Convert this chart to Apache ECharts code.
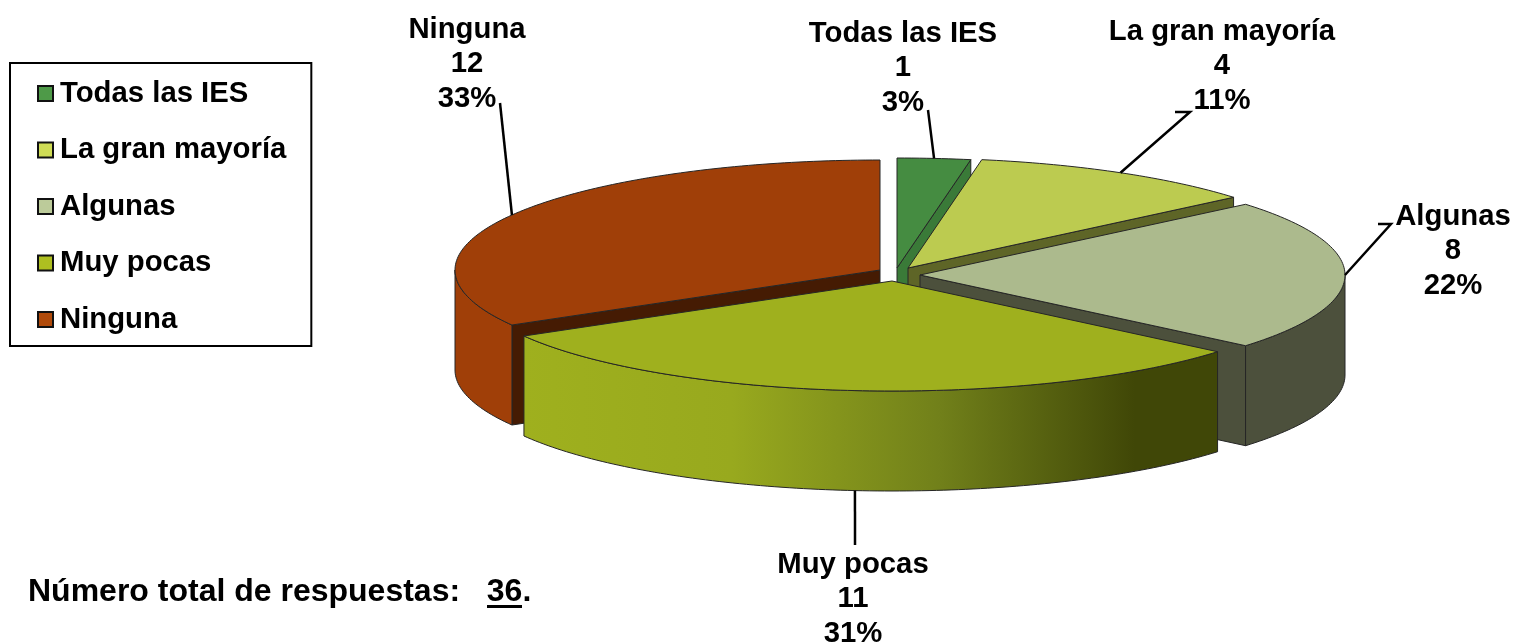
<!DOCTYPE html>
<html>
<head>
<meta charset="utf-8">
<title>Número total de respuestas</title>
<style>
  html, body { margin: 0; padding: 0; background: #fff; }
  #chart { width: 1515px; height: 643px; }
</style>
<script src="https://cdn.jsdelivr.net/npm/echarts@6/dist/echarts.min.js"></script>
</head>
<body>
<div id="chart"></div>
<script>
const categories = ['Todas las IES', 'La gran mayoría', 'Algunas', 'Muy pocas', 'Ninguna']
const values = [1, 4, 8, 11, 12]

// colours
const legendColors = ['#4e9a48', '#cfdc55', '#bccb9a', '#aebf20', '#b04a0a']
const topColors = ['#458c41', '#bccb50', '#acba8d', '#9fb01e', '#a03f08']
const wallColors = ['#3a7a38', '#a8b646', '#4c503c', '#9fb01e', '#a03f08']
const cutColors = ['#3a7a38', '#5e6527', '#4c503c', '#404707', '#451b03']

// pie geometry
const centerX = 895
const centerY = 275
const radiusX = 425
const radiusY = 110
const depth = 100
const sliceShift = [[2, -7], [13, -7], [25, 0], [-3, 6], [-15, -5]]
const paintOrder = [1, 2, 4, 5, 3]

// label placement, leader lines end here
const labelCenters = [[903, 68], [1222, 66], [1453, 251], [853, 599], [467, 64]]
const leaderEnds = [
  [[928, 110]],
  [[1190, 112], [1175, 112]],
  [[1391, 224], [1378, 224]],
  [[855, 545]],
  [[500, 103]]
]
const leaderOnFloor = [false, false, false, true, false]

const FONT_FAMILY = '"Liberation Sans", Arial, sans-serif'
const FONT = 'bold 29.3px ' + FONT_FAMILY
const total = values.reduce((a, b) => a + b, 0)

function rad(deg) {
  return (deg * Math.PI) / 180
}

function sliceAngles(index) {
  let start = 0
  for (let i = 0; i < index; i++) start += (values[i] / total) * 360
  return [start, start + (values[index] / total) * 360]
}

function rimPoint(index, deg, drop) {
  const shift = sliceShift[index]
  return [
    centerX + shift[0] + radiusX * Math.sin(rad(deg)),
    centerY + shift[1] - radiusY * Math.cos(rad(deg)) + (drop || 0)
  ]
}

function tipPoint(index, drop) {
  const shift = sliceShift[index]
  return [centerX + shift[0], centerY + shift[1] + (drop || 0)]
}

function arcPoints(index, from, to, drop) {
  const pts = []
  const steps = Math.max(2, Math.ceil(Math.abs(to - from)))
  for (let i = 0; i <= steps; i++) {
    pts.push(rimPoint(index, from + ((to - from) * i) / steps, drop))
  }
  return pts
}

function poly(points, fill, stroke) {
  return {
    type: 'polygon',
    shape: { points },
    style: { fill, stroke: stroke || '#262626', lineWidth: 1 }
  }
}

function cutFace(index, deg) {
  return poly(
    [tipPoint(index), rimPoint(index, deg), rimPoint(index, deg, depth), tipPoint(index, depth)],
    cutColors[index]
  )
}

function wallFill(index) {
  if (index !== 3) return wallColors[index]
  return {
    type: 'linear',
    x: 0,
    y: 0,
    x2: 1,
    y2: 0,
    colorStops: [
      { offset: 0, color: '#9fb01e' },
      { offset: 0.3, color: '#98a91e' },
      { offset: 0.6, color: '#71801a' },
      { offset: 0.88, color: '#404707' },
      { offset: 1, color: '#404707' }
    ]
  }
}

function renderSlice(index) {
  const [start, end] = sliceAngles(index)
  const mid = (start + end) / 2
  const children = []

  // cut faces that turn towards the viewer
  if (Math.sin(rad(start)) < -0.001) children.push(cutFace(index, start))
  if (Math.sin(rad(end)) > 0.001) children.push(cutFace(index, end))

  // outer wall, only the front half of the rim shows
  const wallFrom = Math.max(start, 90)
  const wallTo = Math.min(end, 270)
  if (wallTo > wallFrom) {
    const upper = arcPoints(index, wallFrom, wallTo, 0)
    const lower = arcPoints(index, wallTo, wallFrom, depth)
    children.push(poly(upper.concat(lower), wallFill(index)))
  }

  // top face
  children.push(poly([tipPoint(index)].concat(arcPoints(index, start, end, 0)), topColors[index]))

  // leader line and label
  const anchor = rimPoint(index, mid, leaderOnFloor[index] ? depth : 0)
  children.push({
    type: 'polyline',
    shape: { points: [anchor].concat(leaderEnds[index]) },
    style: { stroke: '#000', lineWidth: 2.5, fill: null }
  })
  const percent = Math.round((values[index] / total) * 100)
  children.push({
    type: 'text',
    style: {
      x: labelCenters[index][0],
      y: labelCenters[index][1],
      text: categories[index] + '\n' + values[index] + '\n' + percent + '%',
      font: FONT,
      lineHeight: 34.5,
      fill: '#000',
      align: 'center',
      verticalAlign: 'middle'
    }
  })
  return { type: 'group', children }
}

const chart = echarts.init(document.getElementById('chart'), null, { renderer: 'canvas' })

chart.setOption({
  animation: false,
  backgroundColor: '#fff',
  legend: {
    orient: 'vertical',
    left: 10,
    top: 63,
    padding: [16, 25, 12, 27],
    itemGap: 27.5,
    itemWidth: 15,
    itemHeight: 15,
    icon: 'rect',
    selectedMode: false,
    borderColor: '#000',
    borderWidth: 2,
    backgroundColor: '#fff',
    data: categories,
    itemStyle: { borderColor: '#111', borderWidth: 2 },
    textStyle: {
      fontFamily: FONT_FAMILY,
      fontWeight: 'bold',
      fontSize: 29.3,
      color: '#000',
      padding: [0, 0, 0, 2]
    }
  },
  graphic: [
    {
      type: 'text',
      left: 28,
      top: 576,
      style: {
        text: 'Número total de respuestas:   ' + total + '.',
        font: 'bold 32px ' + FONT_FAMILY,
        fill: '#000'
      }
    },
    {
      type: 'rect',
      left: 487,
      top: 605,
      shape: { width: 35, height: 3 },
      style: { fill: '#000' }
    }
  ],
  series: categories.map((name, i) => ({
    name,
    type: 'custom',
    coordinateSystem: 'none',
    z: paintOrder[i],
    silent: true,
    itemStyle: { color: legendColors[i] },
    data: [[values[i]]],
    renderItem: () => renderSlice(i)
  }))
})
</script>
</body>
</html>
